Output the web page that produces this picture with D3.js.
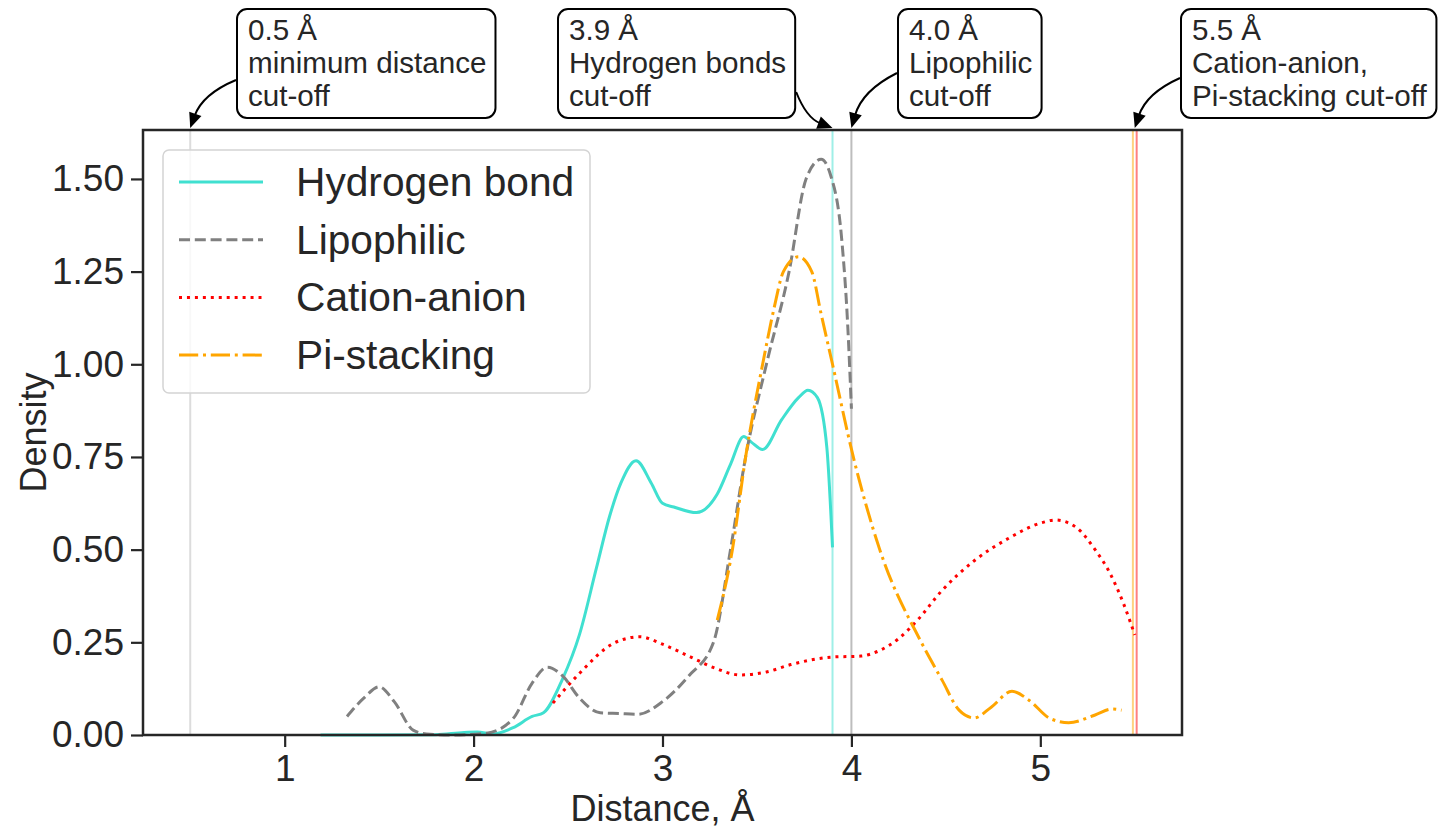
<!DOCTYPE html>
<html>
<head>
<meta charset="utf-8">
<script src="https://cdn.jsdelivr.net/npm/d3@7"></script>
<style>
  body { margin: 0; background: #fff; }
  text { font-family: "Liberation Sans", Arial, sans-serif; fill: #262626; }
</style>
</head>
<body>
<svg width="1442" height="830"></svg>
<script>
// Density curves (distance in Å, density)
const hbX = [1.19, 1.5, 1.8, 1.95, 2.02, 2.1, 2.21, 2.31, 2.37, 2.47, 2.56, 2.65, 2.72, 2.78, 2.86, 2.94, 3.0, 3.06, 3.18, 3.29, 3.36, 3.43, 3.47, 3.53, 3.63, 3.72, 3.77, 3.82, 3.87, 3.90]
const hbY = [0, 0, 0.001, 0.007, 0.008, 0.003, 0.02, 0.05, 0.06, 0.15, 0.27, 0.45, 0.59, 0.68, 0.74, 0.68, 0.625, 0.615, 0.60, 0.65, 0.73, 0.805, 0.79, 0.77, 0.85, 0.91, 0.93, 0.91, 0.775, 0.506]

const lipoX = [1.33, 1.42, 1.50, 1.58, 1.68, 1.75, 1.9, 2.07, 2.21, 2.31, 2.39, 2.47, 2.56, 2.67, 2.77, 2.87, 3.0, 3.14, 3.27, 3.36, 3.44, 3.55, 3.67, 3.76, 3.84, 3.89, 3.95, 3.98, 4.0]
const lipoY = [0.05, 0.10, 0.13, 0.09, 0.013, 0.003, 0.0, 0.005, 0.045, 0.14, 0.183, 0.16, 0.10, 0.06, 0.058, 0.056, 0.09, 0.16, 0.25, 0.5, 0.75, 1.0, 1.25, 1.5, 1.553, 1.51, 1.33, 1.11, 0.88]

const caX = [2.42, 2.56, 2.74, 2.88, 3.0, 3.15, 3.28, 3.41, 3.55, 3.68, 3.89, 4.05, 4.15, 4.25, 4.35, 4.48, 4.65, 4.83, 5.01, 5.08, 5.19, 5.29, 5.37, 5.44, 5.50]
const caY = [0.086, 0.166, 0.247, 0.265, 0.245, 0.21, 0.18, 0.162, 0.17, 0.19, 0.21, 0.213, 0.228, 0.26, 0.31, 0.39, 0.47, 0.53, 0.573, 0.58, 0.56, 0.50, 0.435, 0.355, 0.27]

const piX = [3.29, 3.37, 3.44, 3.53, 3.59, 3.64, 3.72, 3.79, 3.84, 3.90, 4.01, 4.15, 4.37, 4.48, 4.57, 4.65, 4.74, 4.85, 4.94, 5.05, 5.15, 5.29, 5.38, 5.43]
const piY = [0.31, 0.5, 0.75, 1.0, 1.15, 1.25, 1.29, 1.25, 1.135, 1.0, 0.75, 0.5, 0.25, 0.148, 0.067, 0.046, 0.075, 0.118, 0.094, 0.045, 0.033, 0.054, 0.07, 0.067]

const seriesNames = ["Hydrogen bond", "Lipophilic", "Cation-anion", "Pi-stacking"]
const seriesColors = ["#40e0d0", "gray", "red", "orange"]
const seriesDash = [null, "11,4.8", "3,4.95", "19.2,4.8,3,4.8"]

// cut-off lines
const cutValues = [0.5, 3.9, 4.0, 5.49, 5.51]
const cutColors = ["#dcdcdc", "#9fefe7", "#bdbdbd", "#ffd27f", "#ff8080"]

const xTicks = [1, 2, 3, 4, 5]
const yTicks = [0, 0.25, 0.5, 0.75, 1.0, 1.25, 1.5]

// annotation boxes
const notes = [
    { value: 0.5, lines: ["0.5 Å", "minimum distance", "cut-off"] },
    { value: 3.9, lines: ["3.9 Å", "Hydrogen bonds", "cut-off"] },
    { value: 4.0, lines: ["4.0 Å", "Lipophilic", "cut-off"] },
    { value: 5.5, lines: ["5.5 Å", "Cation-anion,", "Pi-stacking cut-off"] }
]
// box left x, arrow start side and height (layout only)
const noteLayout = [
    { bx: 237, side: "left", sy: 80 },
    { bx: 558, side: "right", sy: 92 },
    { bx: 898, side: "left", sy: 73 },
    { bx: 1181, side: "left", sy: 78 }
]

const svg = d3.select("svg")
const mLeft = 143, mRight = 1182, mTop = 130, mBottom = 735

const x = d3.scaleLinear().domain([0.25, 5.75]).range([mLeft, mRight])
const y = d3.scaleLinear().domain([0, 1.632]).range([mBottom, mTop])

// vertical cut-off lines
svg.append("g")
    .selectAll("line")
    .data(cutValues)
    .join("line")
    .attr("x1", d => x(d)).attr("x2", d => x(d))
    .attr("y1", mTop).attr("y2", mBottom)
    .attr("stroke", (d, i) => cutColors[i])
    .attr("stroke-width", 2)

// curves
const allX = [hbX, lipoX, caX, piX]
const allY = [hbY, lipoY, caY, piY]
const line = d3.line()
    .x(d => x(d[0]))
    .y(d => y(d[1]))
    .curve(d3.curveMonotoneX)

svg.append("g")
    .selectAll("path")
    .data(allX.map((xs, i) => xs.map((v, j) => [v, allY[i][j]])))
    .join("path")
    .attr("d", line)
    .attr("fill", "none")
    .attr("stroke", (d, i) => seriesColors[i])
    .attr("stroke-width", 3)
    .attr("stroke-dasharray", (d, i) => seriesDash[i])

// axes
const xAxis = svg.append("g")
    .attr("transform", `translate(0,${mBottom})`)
    .call(d3.axisBottom(x).tickValues(xTicks).tickFormat(d3.format("d")).tickSize(12).tickPadding(8))
const yAxis = svg.append("g")
    .attr("transform", `translate(${mLeft},0)`)
    .call(d3.axisLeft(y).tickValues(yTicks).tickFormat(d3.format(".2f")).tickSize(12).tickPadding(7))

;[xAxis, yAxis].forEach(g => {
    g.select(".domain").remove()
    g.selectAll(".tick line").attr("stroke", "#262626").attr("stroke-width", 2.2)
    g.selectAll(".tick text").attr("font-size", 37).attr("fill", "#262626")
        .style("font-family", "'Liberation Sans', Arial, sans-serif")
})

// frame
svg.append("rect")
    .attr("x", mLeft).attr("y", mTop)
    .attr("width", mRight - mLeft).attr("height", mBottom - mTop)
    .attr("fill", "none")
    .attr("stroke", "#262626")
    .attr("stroke-width", 2.5)

// axis labels
svg.append("text")
    .attr("x", (mLeft + mRight) / 2).attr("y", 821)
    .attr("text-anchor", "middle")
    .attr("font-size", 36)
    .text("Distance, Å")
svg.append("text")
    .attr("transform", `translate(46,${(mTop + mBottom) / 2}) rotate(-90)`)
    .attr("text-anchor", "middle")
    .attr("font-size", 36)
    .text("Density")

// legend
const legend = svg.append("g")
legend.append("rect")
    .attr("x", 163).attr("y", 150)
    .attr("width", 427).attr("height", 243)
    .attr("rx", 6)
    .attr("fill", "white").attr("fill-opacity", 0.8)
    .attr("stroke", "#d4d4d4").attr("stroke-width", 1.5)

seriesNames.forEach((name, i) => {
    const cy = 182 + i * 57.7
    legend.append("line")
        .attr("x1", 179).attr("x2", 263)
        .attr("y1", cy).attr("y2", cy)
        .attr("stroke", seriesColors[i])
        .attr("stroke-width", 3)
        .attr("stroke-dasharray", seriesDash[i])
    legend.append("text")
        .attr("x", 296).attr("y", cy + 14)
        .attr("font-size", 40.7)
        .text(name)
})

// annotations with curved arrows
const ann = svg.append("g")
notes.forEach((n, i) => {
    const lay = noteLayout[i]
    const g = ann.append("g")
    const t = g.append("text")
        .attr("font-size", 29.6)
    n.lines.forEach((s, k) => {
        t.append("tspan")
            .attr("x", lay.bx + 11)
            .attr("y", 40 + k * 33)
            .text(s)
    })
    const bb = t.node().getBBox()
    const bw = bb.width + 20
    g.insert("rect", "text")
        .attr("x", lay.bx).attr("y", 9)
        .attr("width", bw).attr("height", 109)
        .attr("rx", 10)
        .attr("fill", "white")
        .attr("stroke", "black")
        .attr("stroke-width", 2)

    const sx = lay.side === "left" ? lay.bx - 1 : lay.bx + bw + 1
    const sy = lay.sy
    const ex = x(n.value), ey = 128
    const dx = ex - sx, dy = ey - sy
    const cx = (sx + ex) / 2 - 0.22 * dy, cy = (sy + ey) / 2 + 0.22 * dx
    // tangent at end
    let tx = ex - cx, ty = ey - cy
    const tl = Math.hypot(tx, ty)
    tx /= tl; ty /= tl
    const hl = 15, hw = 6.5
    const bxp = ex - tx * hl, byp = ey - ty * hl
    const path = d3.path()
    path.moveTo(sx, sy)
    path.quadraticCurveTo(cx, cy, bxp + tx * 2, byp + ty * 2)
    g.append("path")
        .attr("d", path.toString())
        .attr("fill", "none")
        .attr("stroke", "black")
        .attr("stroke-width", 2)
    g.append("path")
        .attr("d", `M${ex},${ey}L${bxp - ty * hw},${byp + tx * hw}L${bxp + ty * hw},${byp - tx * hw}Z`)
        .attr("fill", "black")
})
</script>
</body>
</html>
